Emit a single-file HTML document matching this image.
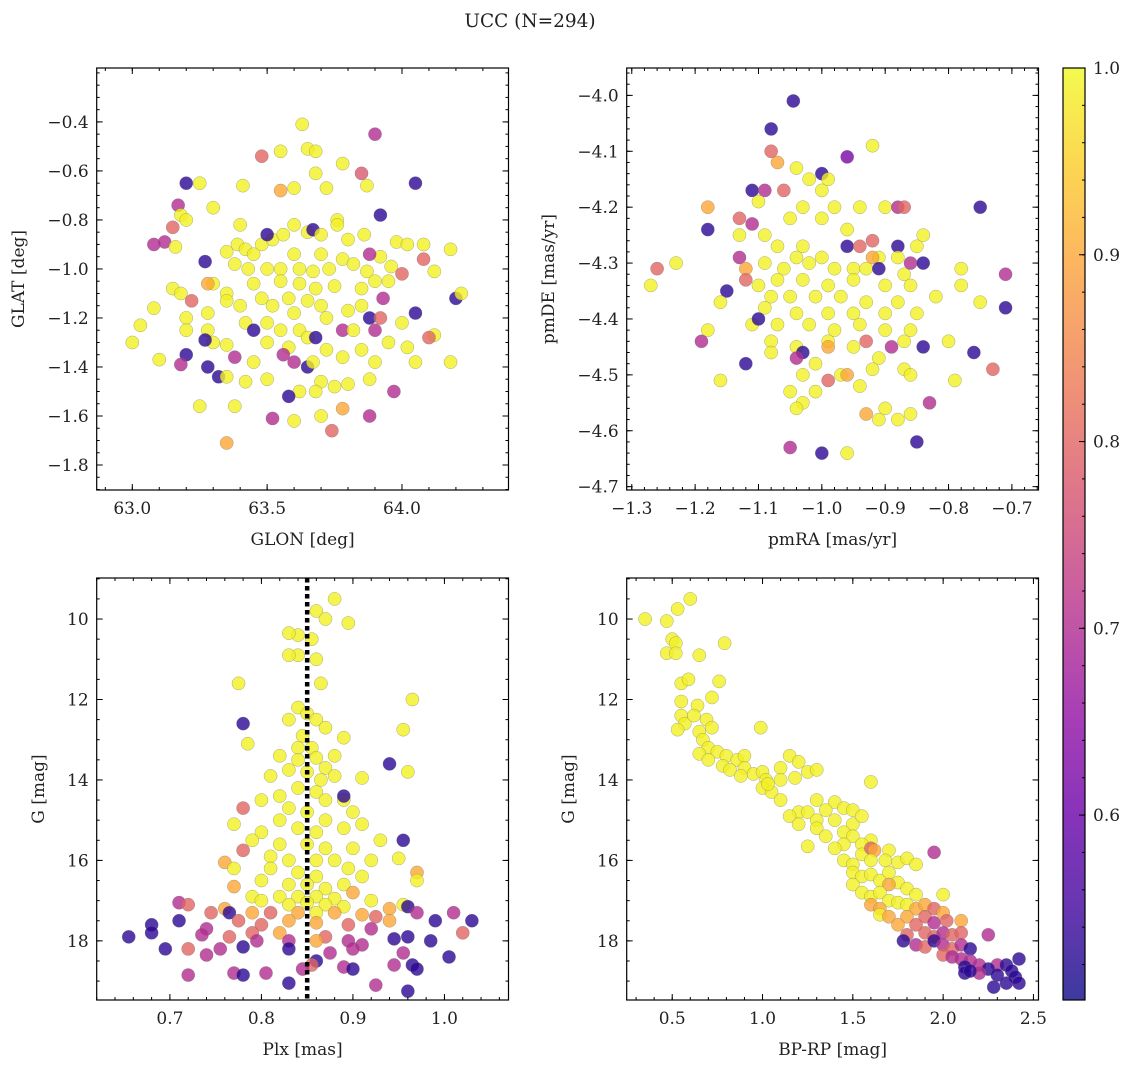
<!DOCTYPE html>
<html><head><meta charset="utf-8"><title>UCC (N=294)</title>
<style>
html,body{margin:0;padding:0;background:#fff;}
svg{display:block;}
text{font-family:"DejaVu Serif","Liberation Serif",serif;fill:#222;}
</style></head>
<body>
<svg id="fig" width="1136" height="1067" viewBox="0 0 1136 1067" xmlns="http://www.w3.org/2000/svg">
<text x="530" y="27" font-size="18.5" text-anchor="middle">UCC (N=294)</text>
</svg>
<script>
// ---------- Panel 1: GLON / GLAT ----------
const glon=[63.63,63.90,63.65,63.55,63.68,63.48,63.78,63.68,63.85,63.20,63.25,63.41,63.87,64.05,63.55,63.60,63.72,63.08,63.12,63.15,63.17,63.18,63.20,63.16,63.30,63.40,63.27,63.35,63.39,63.42,63.45,63.48,63.52,63.50,63.56,63.60,63.65,63.67,63.70,63.76,63.76,63.80,63.86,63.92,63.98,64.02,64.08,64.18,64.08,63.60,63.70,63.38,63.43,63.50,63.55,63.62,63.67,63.73,63.78,63.82,63.87,63.92,63.96,63.88,64.00,64.12,63.30,63.28,63.35,63.45,63.55,63.62,63.68,63.75,63.85,63.90,63.95,63.93,63.15,63.18,63.08,63.22,63.20,63.28,63.35,63.40,63.48,63.52,63.58,63.60,63.65,63.70,63.72,63.80,63.85,63.88,63.92,64.00,64.05,64.20,64.22,63.03,63.00,63.20,63.28,63.42,63.50,63.45,63.55,63.62,63.65,63.68,63.78,63.82,63.90,64.12,64.10,63.30,63.27,63.35,63.38,63.50,63.58,63.56,63.72,63.85,63.95,64.02,63.20,63.10,63.18,63.28,63.45,63.60,63.65,63.67,63.78,63.90,64.05,64.18,63.32,63.35,63.42,63.50,63.70,63.75,63.80,63.88,63.97,63.62,63.58,63.68,63.25,63.38,63.78,63.70,63.52,63.60,63.88,63.35,63.74];
const glat=[-0.41,-0.45,-0.51,-0.52,-0.52,-0.54,-0.57,-0.61,-0.61,-0.65,-0.65,-0.66,-0.66,-0.65,-0.68,-0.67,-0.67,-0.90,-0.89,-0.83,-0.74,-0.78,-0.80,-0.91,-0.75,-0.82,-0.97,-0.93,-0.90,-0.92,-0.94,-0.90,-0.88,-0.86,-0.86,-0.82,-0.85,-0.84,-0.86,-0.80,-0.82,-0.88,-0.86,-0.78,-0.89,-0.90,-0.90,-0.92,-0.96,-0.94,-0.94,-0.98,-1.00,-1.00,-1.00,-1.00,-1.01,-1.00,-0.96,-0.98,-1.01,-0.95,-0.99,-0.94,-1.02,-1.01,-1.06,-1.06,-1.10,-1.06,-1.05,-1.06,-1.08,-1.07,-1.08,-1.05,-1.05,-1.12,-1.08,-1.10,-1.16,-1.13,-1.20,-1.18,-1.13,-1.15,-1.12,-1.15,-1.12,-1.18,-1.13,-1.15,-1.20,-1.17,-1.15,-1.20,-1.20,-1.22,-1.18,-1.12,-1.10,-1.23,-1.30,-1.25,-1.25,-1.22,-1.22,-1.25,-1.25,-1.25,-1.28,-1.28,-1.25,-1.25,-1.25,-1.27,-1.28,-1.30,-1.29,-1.31,-1.36,-1.30,-1.32,-1.35,-1.33,-1.33,-1.30,-1.32,-1.35,-1.37,-1.39,-1.40,-1.38,-1.38,-1.40,-1.38,-1.36,-1.38,-1.38,-1.38,-1.44,-1.44,-1.46,-1.45,-1.46,-1.48,-1.47,-1.45,-1.50,-1.50,-1.52,-1.50,-1.56,-1.56,-1.57,-1.60,-1.61,-1.62,-1.60,-1.71,-1.66];
const probA=[.99,.7,.99,.99,.99,.8,.99,.99,.78,.53,.99,.99,.99,.53,.9,.99,.99,.7,.7,.8,.7,.99,.99,.99,.99,.99,.53,.99,.99,.99,.99,.99,.99,.53,.99,.99,.99,.53,.99,.99,.99,.99,.99,.53,.99,.99,.99,.99,.8,.99,.99,.99,.99,.99,.99,.99,.99,.99,.99,.99,.99,.99,.99,.7,.8,.99,.99,.9,.99,.99,.99,.99,.99,.99,.99,.99,.99,.7,.99,.99,.99,.8,.99,.99,.99,.99,.99,.99,.99,.99,.99,.99,.99,.99,.99,.53,.8,.99,.53,.53,.99,.99,.99,.99,.99,.99,.99,.53,.99,.99,.99,.53,.7,.99,.7,.99,.8,.99,.53,.99,.7,.99,.99,.7,.99,.99,.99,.99,.53,.99,.7,.53,.99,.7,.53,.99,.99,.99,.99,.99,.53,.99,.99,.99,.99,.99,.99,.99,.7,.99,.53,.99,.99,.99,.9,.99,.7,.99,.7,.9,.8];

// ---------- Panel 2: pmRA / pmDE ----------
const pmra=[-1.045,-0.96,-0.92,-1.08,-1.07,-1.08,-1.04,-1.02,-1.00,-0.99,-1.11,-1.09,-1.06,-1.00,-1.10,-1.03,-0.98,-0.94,-0.90,-0.88,-0.87,-0.75,-1.18,-1.13,-1.11,-1.13,-1.05,-1.00,-0.96,-1.18,-1.09,-0.85,-0.84,-0.92,-1.07,-1.03,-0.96,-0.94,-0.88,-1.13,-1.04,-1.00,-0.91,-0.92,-0.88,-1.26,-1.23,-1.12,-1.09,-1.06,-1.02,-0.98,-0.95,-0.93,-0.91,-0.87,-0.86,-0.84,-0.78,-0.71,-1.27,-1.10,-1.12,-1.07,-1.03,-0.99,-0.95,-0.90,-0.86,-0.78,-1.15,-1.16,-1.08,-1.05,-1.01,-0.97,-0.93,-0.88,-0.82,-0.75,-0.71,-1.09,-1.04,-0.99,-0.95,-0.90,-0.85,-1.11,-1.10,-1.18,-1.07,-1.02,-0.98,-0.94,-0.90,-0.86,-1.19,-1.08,-1.04,-0.99,-0.95,-0.93,-0.89,-0.87,-0.80,-0.84,-0.76,-1.08,-1.03,-1.04,-0.99,-0.91,-1.01,-1.12,-1.16,-1.03,-0.97,-0.92,-0.87,-0.86,-0.96,-0.99,-0.79,-0.73,-1.05,-1.01,-0.94,-0.83,-1.03,-0.90,-1.04,-0.91,-0.93,-0.86,-0.88,-1.05,-0.85,-1.00,-0.96];
const pmde=[-4.01,-4.11,-4.09,-4.06,-4.12,-4.10,-4.13,-4.15,-4.14,-4.15,-4.17,-4.17,-4.17,-4.17,-4.19,-4.20,-4.20,-4.20,-4.20,-4.20,-4.20,-4.20,-4.20,-4.22,-4.23,-4.25,-4.22,-4.22,-4.24,-4.24,-4.25,-4.27,-4.25,-4.26,-4.27,-4.27,-4.27,-4.27,-4.27,-4.29,-4.29,-4.29,-4.29,-4.29,-4.29,-4.31,-4.30,-4.31,-4.30,-4.31,-4.30,-4.31,-4.31,-4.31,-4.31,-4.32,-4.30,-4.30,-4.31,-4.32,-4.34,-4.34,-4.33,-4.33,-4.33,-4.34,-4.33,-4.34,-4.34,-4.34,-4.35,-4.37,-4.36,-4.36,-4.36,-4.36,-4.37,-4.37,-4.36,-4.37,-4.38,-4.38,-4.39,-4.39,-4.39,-4.39,-4.39,-4.41,-4.40,-4.42,-4.41,-4.41,-4.42,-4.41,-4.42,-4.42,-4.44,-4.44,-4.45,-4.44,-4.45,-4.44,-4.45,-4.44,-4.44,-4.45,-4.46,-4.46,-4.46,-4.47,-4.45,-4.47,-4.48,-4.48,-4.51,-4.50,-4.50,-4.49,-4.49,-4.50,-4.50,-4.51,-4.51,-4.49,-4.53,-4.53,-4.52,-4.55,-4.55,-4.56,-4.56,-4.58,-4.57,-4.57,-4.58,-4.63,-4.62,-4.64,-4.64];
const probB=[.53,.62,.99,.53,.9,.8,.99,.99,.53,.99,.53,.7,.8,.99,.99,.99,.99,.99,.99,.7,.8,.53,.9,.8,.7,.99,.99,.99,.99,.53,.99,.99,.99,.8,.99,.99,.53,.8,.53,.7,.99,.99,.99,.9,.99,.8,.99,.9,.99,.99,.99,.99,.99,.99,.53,.99,.7,.53,.99,.7,.99,.99,.8,.99,.99,.99,.99,.99,.99,.99,.53,.99,.99,.99,.99,.99,.99,.99,.99,.99,.53,.99,.99,.99,.99,.99,.99,.99,.53,.99,.99,.99,.99,.99,.99,.99,.7,.99,.99,.99,.99,.8,.7,.99,.99,.53,.53,.99,.53,.7,.9,.99,.99,.53,.99,.99,.99,.99,.99,.99,.9,.8,.99,.8,.99,.99,.99,.7,.99,.99,.99,.99,.9,.99,.99,.7,.53,.53,.99];

// ---------- Panel 3: Plx / G ----------
const plx=[0.88,0.86,0.87,0.895,0.855,0.84,0.83,0.84,0.83,0.86,0.775,0.865,0.965,0.78,0.84,0.85,0.83,0.86,0.87,0.845,0.84,0.855,0.89,0.785,0.955,0.82,0.84,0.86,0.88,0.87,0.85,0.83,0.81,0.865,0.88,0.91,0.94,0.96,0.84,0.86,0.82,0.87,0.89,0.89,0.80,0.78,0.83,0.85,0.90,0.87,0.82,0.77,0.84,0.86,0.89,0.91,0.80,0.79,0.955,0.93,0.82,0.85,0.87,0.90,0.78,0.81,0.83,0.86,0.88,0.895,0.92,0.95,0.76,0.77,0.81,0.84,0.86,0.91,0.97,0.97,0.80,0.83,0.85,0.87,0.89,0.77,0.82,0.84,0.86,0.88,0.90,0.79,0.80,0.83,0.85,0.87,0.89,0.92,0.71,0.72,0.76,0.765,0.745,0.79,0.81,0.84,0.86,0.88,0.91,0.94,0.955,0.96,0.97,0.925,0.775,0.80,0.83,0.86,0.895,0.94,0.68,0.71,0.74,0.79,0.82,0.87,0.92,0.99,1.03,1.01,1.02,0.655,0.68,0.735,0.765,0.795,0.83,0.86,0.91,0.945,0.96,0.985,0.895,0.695,0.72,0.755,0.78,0.83,0.86,0.875,0.855,0.90,0.955,1.005,0.74,0.77,0.78,0.805,0.845,0.89,0.90,0.945,0.965,0.97,0.72,0.83,0.925,0.96];
const gmag3=[9.5,9.8,10.0,10.1,10.5,10.4,10.35,10.9,10.9,11.0,11.6,11.6,12.0,12.6,12.2,12.35,12.5,12.5,12.7,12.9,13.2,13.2,12.95,13.1,12.75,13.4,13.5,13.45,13.4,13.7,13.8,13.75,13.9,14.0,13.9,13.95,13.6,13.8,14.2,14.3,14.4,14.5,14.5,14.4,14.5,14.7,14.7,14.8,14.8,15.0,15.0,15.1,15.2,15.3,15.2,15.1,15.3,15.5,15.5,15.5,15.6,15.6,15.7,15.7,15.75,15.9,16.0,16.0,16.0,16.2,16.0,15.95,16.05,16.2,16.2,16.3,16.4,16.4,16.3,16.5,16.5,16.6,16.6,16.7,16.6,16.65,16.9,16.9,16.9,16.95,16.8,16.9,17.0,17.1,17.05,17.1,17.15,17.0,17.05,17.1,17.2,17.3,17.3,17.3,17.3,17.3,17.3,17.3,17.35,17.2,17.1,17.15,17.3,17.4,17.5,17.6,17.5,17.55,17.6,17.5,17.6,17.5,17.7,17.8,17.8,17.9,17.7,17.5,17.5,17.3,17.8,17.9,17.8,17.85,17.9,18.0,18.0,18.0,18.1,17.95,17.9,18.0,18.0,18.2,18.2,18.2,18.15,18.2,18.5,18.3,18.6,18.2,18.3,18.4,18.35,18.8,18.85,18.8,18.7,18.65,18.7,18.6,18.6,18.7,18.85,19.05,19.1,19.25];
const probC=[.99,.99,.99,.99,.99,.99,.99,.99,.99,.99,.99,.99,.99,.53,.99,.99,.99,.99,.99,.99,.99,.99,.99,.99,.99,.99,.99,.99,.99,.99,.99,.99,.99,.99,.99,.99,.53,.99,.99,.99,.99,.99,.99,.53,.99,.8,.99,.99,.99,.99,.99,.99,.99,.99,.99,.99,.99,.99,.53,.99,.99,.99,.99,.99,.8,.99,.99,.99,.99,.99,.99,.99,.9,.99,.99,.99,.99,.99,.9,.99,.99,.99,.99,.99,.99,.9,.99,.99,.99,.99,.9,.99,.99,.99,.99,.99,.99,.99,.7,.8,.9,.53,.8,.9,.8,.9,.99,.9,.9,.9,.99,.53,.7,.8,.8,.8,.9,.9,.8,.9,.53,.53,.7,.8,.9,.8,.7,.53,.53,.7,.8,.53,.53,.7,.8,.7,.7,.9,.7,.53,.53,.53,.7,.53,.8,.7,.53,.53,.53,.7,.8,.7,.7,.53,.7,.7,.53,.7,.7,.7,.53,.7,.53,.53,.7,.53,.7,.53];

// ---------- Panel 4: BP-RP / G ----------
const bprp=[0.35,0.60,0.53,0.47,0.50,0.52,0.47,0.52,0.65,0.79,0.55,0.59,0.76,0.55,0.64,0.72,0.55,0.57,0.53,0.62,0.65,0.69,0.72,0.99,0.67,0.70,0.75,0.65,0.70,0.80,0.86,0.90,0.78,0.82,0.90,0.95,1.00,0.88,1.15,1.20,1.10,1.25,1.30,1.02,1.10,1.18,1.00,1.05,1.10,1.03,1.60,1.30,1.40,1.45,1.50,1.35,1.20,1.25,1.15,1.30,1.40,1.50,1.55,1.20,1.30,1.45,1.35,1.50,1.60,1.55,1.25,1.70,1.45,1.40,1.55,1.60,1.62,1.45,1.50,1.60,1.68,1.75,1.80,1.85,1.95,1.50,1.55,1.60,1.65,1.70,1.75,1.70,1.50,1.55,1.60,1.65,1.80,1.85,2.00,1.70,1.75,1.60,1.65,1.80,1.85,1.90,1.95,1.65,1.70,1.80,1.90,2.00,1.75,1.85,1.95,2.02,2.10,1.80,1.78,1.90,1.95,2.00,2.05,2.10,2.25,1.85,1.90,1.95,2.00,2.05,2.10,2.15,2.00,2.05,2.10,2.15,2.12,2.20,2.30,2.25,2.35,2.42,2.20,2.30,2.38,2.40,2.35,2.42,2.28,2.12,2.15];
const gmag4=[10.0,9.5,9.75,10.05,10.5,10.6,10.85,10.85,10.9,10.6,11.6,11.5,11.55,12.05,12.15,11.95,12.4,12.6,12.75,12.4,12.8,12.5,12.7,12.7,13.0,13.2,13.3,13.35,13.5,13.4,13.5,13.4,13.65,13.75,13.7,13.85,13.8,13.9,13.4,13.55,13.7,13.8,13.75,14.0,14.0,13.95,14.2,14.3,14.5,14.1,14.05,14.5,14.55,14.7,14.75,14.75,14.8,14.8,14.9,15.0,15.0,15.1,14.9,15.1,15.2,15.3,15.4,15.4,15.5,15.6,15.65,15.75,15.6,15.7,15.85,15.7,15.75,16.0,16.1,16.0,16.0,16.05,15.95,16.1,15.8,16.3,16.4,16.35,16.5,16.3,16.55,16.6,16.6,16.8,16.9,16.8,16.7,16.85,16.85,17.0,17.05,17.1,17.2,17.1,17.2,17.1,17.2,17.35,17.4,17.4,17.4,17.3,17.6,17.6,17.55,17.5,17.5,17.85,18.0,17.8,17.9,17.8,17.85,17.8,17.85,18.1,18.15,18.0,18.1,18.2,18.1,18.2,18.35,18.4,18.45,18.5,18.65,18.6,18.6,18.7,18.6,18.45,18.8,18.85,18.75,18.9,19.05,19.05,19.15,18.8,18.75];
const probD=[.99,.99,.99,.99,.99,.99,.99,.99,.99,.99,.99,.99,.99,.99,.99,.99,.99,.99,.99,.99,.99,.99,.99,.99,.99,.99,.99,.99,.99,.99,.99,.99,.99,.99,.99,.99,.99,.99,.99,.99,.99,.99,.99,.99,.99,.99,.99,.99,.99,.99,.99,.99,.99,.99,.99,.99,.99,.99,.99,.99,.99,.99,.99,.99,.99,.99,.99,.99,.99,.99,.99,.99,.99,.99,.99,.8,.9,.99,.99,.99,.99,.99,.99,.99,.7,.99,.99,.99,.99,.99,.99,.9,.99,.99,.99,.99,.99,.99,.99,.99,.99,.9,.9,.99,.9,.9,.8,.99,.9,.9,.8,.9,.9,.8,.7,.8,.9,.8,.53,.8,.8,.7,.8,.8,.7,.7,.8,.53,.7,.8,.7,.53,.8,.7,.7,.7,.53,.7,.7,.53,.53,.53,.7,.53,.53,.53,.53,.53,.53,.53,.53];

// ---------- colour bar ----------
const cbarTicks=[0.6,0.7,0.8,0.9,1.0];
const vmin=0.501, vmax=1.0;

const NS="http://www.w3.org/2000/svg";
const svg=document.getElementById('fig');
const plasma=[[0,13,8,135],[.1,65,4,157],[.2,106,0,168],[.3,143,13,164],[.4,177,42,144],[.5,204,71,120],[.6,225,100,98],[.7,242,132,75],[.8,252,166,54],[.9,252,206,37],[1,240,249,33]];
function cmap(v){
  if(v===undefined||isNaN(v)) v=vmax;
  let t=Math.max(0,Math.min(1,(v-vmin)/(vmax-vmin)));
  for(let i=1;i<plasma.length;i++){
    if(t<=plasma[i][0]){const a=plasma[i-1],b=plasma[i];const f=(t-a[0])/(b[0]-a[0]);
      return `rgb(${Math.round(a[1]+(b[1]-a[1])*f)},${Math.round(a[2]+(b[2]-a[2])*f)},${Math.round(a[3]+(b[3]-a[3])*f)})`;}
  }
  return 'rgb(240,249,33)';
}
function el(tag,attrs,parent){const e=document.createElementNS(NS,tag);for(const k in attrs)e.setAttribute(k,attrs[k]);(parent||svg).appendChild(e);return e;}
function fmt(v,d){return (v<0?'\u2212':'')+Math.abs(v).toFixed(d);}
const FS=17;

function panel(cfg){
  const g=el('g',{});
  
  
  const {x0,x1,y0,y1}=cfg;
  const sx=v=>x0+(v-cfg.xd[0])/(cfg.xd[1]-cfg.xd[0])*(x1-x0);
  const sy=cfg.invert? v=>y0+(v-cfg.yd[0])/(cfg.yd[1]-cfg.yd[0])*(y1-y0)
                     : v=>y1-(v-cfg.yd[0])/(cfg.yd[1]-cfg.yd[0])*(y1-y0);
  const cp='clip-'+cfg.name;
  const defs=el('defs',{},g);const c=el('clipPath',{id:cp},defs);el('rect',{x:x0,y:y0,width:x1-x0,height:y1-y0},c);
  const pg=el('g',{'clip-path':`url(#${cp})`},g);
  
  
  for(let i=0;i<cfg.xs.length;i++){
    const ci=el('circle',{cx:sx(cfg.xs[i]),cy:sy(cfg.ys[i]),r:6.6,fill:cmap(cfg.ps[i]),'fill-opacity':0.8,stroke:'#777','stroke-opacity':0.6,'stroke-width':0.5},pg);
    
    
  }
  if(cfg.vline!==undefined){
    const ln=el('line',{x1:sx(cfg.vline),x2:sx(cfg.vline),y1:y0,y2:y1,stroke:'#000','stroke-width':4.5,'stroke-dasharray':'4.5,3.5'},pg);
    
    
  }
  const fr=el('rect',{x:x0,y:y0,width:x1-x0,height:y1-y0,fill:'none',stroke:'#000','stroke-width':1.2},g);
  
  
  const tk=el('g',{stroke:'#000','stroke-width':1},g);
  const eps=1e-9;
  for(let v=Math.ceil(cfg.xd[0]/cfg.xm-eps)*cfg.xm;v<=cfg.xd[1]+eps;v+=cfg.xm){const X=sx(v);el('line',{x1:X,x2:X,y1:y1,y2:y1-3},tk);el('line',{x1:X,x2:X,y1:y0,y2:y0+3},tk);}
  for(let v=Math.ceil(cfg.yd[0]/cfg.ym-eps)*cfg.ym;v<=cfg.yd[1]+eps;v+=cfg.ym){const Y=sy(v);el('line',{x1:x0,x2:x0+3,y1:Y,y2:Y},tk);el('line',{x1:x1,x2:x1-3,y1:Y,y2:Y},tk);}
  cfg.xt.forEach(v=>{const X=sx(v);el('line',{x1:X,x2:X,y1:y1,y2:y1-6},tk);el('line',{x1:X,x2:X,y1:y0,y2:y0+6},tk);
    const t=el('text',{x:X,y:y1+24,'font-size':FS,'text-anchor':'middle'},g);t.textContent=fmt(v,cfg.xdec);
    
    });
  cfg.yt.forEach(v=>{const Y=sy(v);el('line',{x1:x0,x2:x0+6,y1:Y,y2:Y},tk);el('line',{x1:x1,x2:x1-6,y1:Y,y2:Y},tk);
    const t=el('text',{x:x0-8,y:Y+6,'font-size':FS,'text-anchor':'end'},g);t.textContent=fmt(v,cfg.ydec);
    
    });
  const xl=el('text',{x:(x0+x1)/2,y:y1+55,'font-size':FS,'text-anchor':'middle'},g);xl.textContent=cfg.xl;
  
  
  const yx=cfg.ylx, yy=(y0+y1)/2;
  const yl=el('text',{x:yx,y:yy,'font-size':FS,'text-anchor':'middle',transform:`rotate(-90 ${yx} ${yy})`},g);yl.textContent=cfg.yl;
  
  
}

function range(a,b,s){const r=[];for(let v=a;v<=b+1e-9;v+=s)r.push(Math.round(v*1000)/1000);return r;}

panel({name:'glon-glat-panel',x0:96.7,x1:508.5,y0:68,y1:490,xd:[62.868,64.395],yd:[-1.902,-0.180],
  xt:[63.0,63.5,64.0],xm:0.1,xdec:1,yt:range(-1.8,-0.4,0.2),ym:0.05,ydec:1,xl:'GLON [deg]',yl:'GLAT [deg]',ylx:24,
  xs:glon,ys:glat,ps:probA});
panel({name:'pm-panel',x0:626.7,x1:1038.5,y0:68,y1:490,xd:[-1.308,-0.658],yd:[-4.706,-3.951],
  xt:range(-1.3,-0.7,0.1),xm:0.02,xdec:1,yt:range(-4.7,-4.0,0.1),ym:0.02,ydec:1,xl:'pmRA [mas/yr]',yl:'pmDE [mas/yr]',ylx:554,
  xs:pmra,ys:pmde,ps:probB});
panel({name:'plx-g-panel',x0:96.7,x1:508.5,y0:578,y1:1000,xd:[0.620,1.070],yd:[8.98,19.47],invert:true,vline:0.85,
  xt:[0.7,0.8,0.9,1.0],xm:0.02,xdec:1,yt:[10,12,14,16,18],ym:0.5,ydec:0,xl:'Plx [mas]',yl:'G [mag]',ylx:44,
  xs:plx,ys:gmag3,ps:probC});
panel({name:'cmd-panel',x0:626.7,x1:1038.5,y0:578,y1:1000,xd:[0.248,2.528],yd:[8.98,19.47],invert:true,
  xt:[0.5,1.0,1.5,2.0,2.5],xm:0.1,xdec:1,yt:[10,12,14,16,18],ym:0.5,ydec:0,xl:'BP-RP [mag]',yl:'G [mag]',ylx:574,
  xs:bprp,ys:gmag4,ps:probD});

(function(){
  const x0=1063,x1=1085,y0=68,y1=1000;
  const g=el('g',{});
  
  
  const defs=el('defs',{},g);
  const lg=el('linearGradient',{id:'cbg',x1:0,y1:1,x2:0,y2:0},defs);
  for(let i=0;i<=20;i++){const t=i/20;el('stop',{offset:t,'stop-color':cmap(vmin+t*(vmax-vmin)),'stop-opacity':0.8},lg);}
  el('rect',{x:x0,y:y0,width:x1-x0,height:y1-y0,fill:'url(#cbg)'},g);
  el('rect',{x:x0,y:y0,width:x1-x0,height:y1-y0,fill:'none',stroke:'#000','stroke-width':1.2},g);
  const sy=v=>y1-(v-vmin)/(vmax-vmin)*(y1-y0);
  for(let v=0.52;v<=1.0001;v+=0.02){const Y=sy(v);el('line',{x1:x1,x2:x1-3,y1:Y,y2:Y,stroke:'#000','stroke-width':1},g);}
  cbarTicks.forEach(v=>{const Y=sy(v);el('line',{x1:x1,x2:x1-6,y1:Y,y2:Y,stroke:'#000','stroke-width':1},g);
    const t=el('text',{x:x1+8,y:Y+6,'font-size':FS},g);t.textContent=v.toFixed(1);
    
    });
})();
</script>
</body></html>
